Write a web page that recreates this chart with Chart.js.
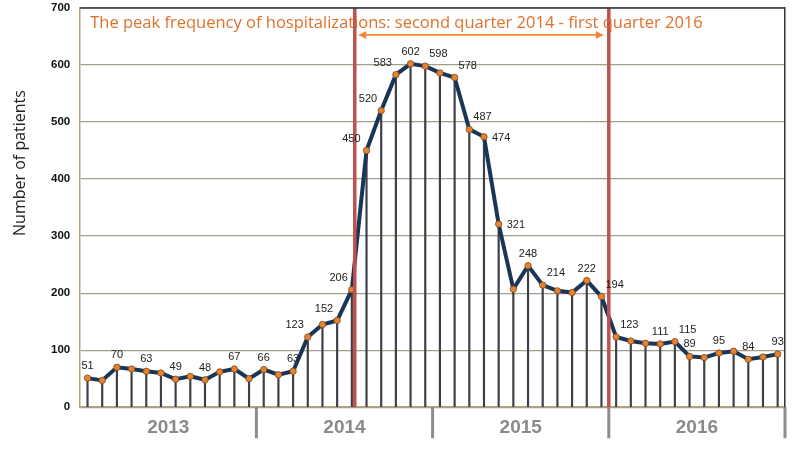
<!DOCTYPE html>
<html>
<head>
<meta charset="utf-8">
<script src="https://cdn.jsdelivr.net/npm/chart.js@4"></script>
<style>
html,body{margin:0;padding:0;background:#fff;}
#wrap{width:797px;height:465px;}
</style>
</head>
<body>
<div id="wrap"><canvas id="c" width="797" height="465"></canvas></div>
<script>
// ---- data ----
const years = ['2013', '2014', '2015', '2016'];
const months = ['Jan','Feb','Mar','Apr','May','Jun','Jul','Aug','Sep','Oct','Nov','Dec'];
const patients = [
  51, 47, 70, 67, 63, 60, 49, 54, 48, 62, 67, 50,
  66, 57, 63, 123, 145, 152, 206, 450, 520, 583, 602, 598,
  586, 578, 487, 474, 321, 207, 248, 214, 204, 201, 222, 194,
  123, 116, 112, 111, 115, 89, 87, 95, 98, 84, 88, 93
];
const labelledPoints = [0,2,4,6,8,10,12,14,15,17,18,19,20,21,22,23,25,26,27,28,30,31,34,35,36,39,40,41,43,45,47];
const yTicks = [0, 100, 200, 300, 400, 500, 600, 700];
const peakStart = 18.2;   // category position of peak period start
const peakEnd = 35.5;     // category position of peak period end
const titleText = 'The peak frequency of hospitalizations: second quarter 2014 - first quarter 2016';
const yTitle = 'Number of patients';

const categories = [];
years.forEach(y => months.forEach(m => categories.push(m + ' ' + y)));

// label placement style (not data)
const labelPlacement = {
  15:'la',17:'la',18:'la',19:'l',20:'la',21:'la',
  23:'ra',25:'ra',26:'ra',27:'r',28:'r',31:'ra',35:'ra',36:'ra',40:'ra'
};

const overlay = {
  id: 'overlay',
  afterDatasetsDraw(chart) {
    const ctx = chart.ctx;
    const xs = chart.scales.x, ys = chart.scales.y;
    const a = chart.chartArea;
    ctx.save();
    // red lines
    ctx.strokeStyle = '#c0504d';
    ctx.lineWidth = 3.5;
    [peakStart, peakEnd].forEach(v => {
      const px = xs.getPixelForValue(v);
      ctx.beginPath(); ctx.moveTo(px, a.top); ctx.lineTo(px, a.bottom); ctx.stroke();
    });
    // arrow
    const ax1 = xs.getPixelForValue(peakStart) + 3.5;
    const ax2 = xs.getPixelForValue(peakEnd) - 5;
    const ay = a.top + 27;
    ctx.strokeStyle = '#f0883a'; ctx.fillStyle = '#f0883a'; ctx.lineWidth = 1.6;
    ctx.beginPath(); ctx.moveTo(ax1 + 4, ay); ctx.lineTo(ax2 - 4, ay); ctx.stroke();
    ctx.beginPath(); ctx.moveTo(ax1, ay); ctx.lineTo(ax1 + 8, ay - 4); ctx.lineTo(ax1 + 8, ay + 4); ctx.closePath(); ctx.fill();
    ctx.beginPath(); ctx.moveTo(ax2, ay); ctx.lineTo(ax2 - 8, ay - 4); ctx.lineTo(ax2 - 8, ay + 4); ctx.closePath(); ctx.fill();
    // title text
    ctx.fillStyle = '#e0702a';
    ctx.font = '16.5px "Open Sans"';
    ctx.textAlign = 'left'; ctx.textBaseline = 'alphabetic';
    ctx.fillText(titleText, a.left + 10, a.top + 20);
    // data labels
    ctx.fillStyle = '#222';
    ctx.font = '11px "Liberation Sans", Arial';
    labelledPoints.forEach(i => {
      const px = xs.getPixelForValue(i), py = ys.getPixelForValue(patients[i]);
      const p = labelPlacement[i] || 'a';
      let tx = px, ty = py - 12, al = 'center';
      if (p === 'la') { tx = px - 4; ty = py - 12; al = 'right'; }
      if (p === 'l') { tx = px - 6; ty = py - 12; al = 'right'; }
      if (p === 'ra') { tx = px + 4; ty = py - 12; al = 'left'; }
      if (p === 'r') { tx = px + 8; ty = py + 1; al = 'left'; }
      ctx.textAlign = al; ctx.textBaseline = 'middle';
      ctx.fillText(String(patients[i]), tx, ty);
    });
    ctx.restore();
  },
  afterDraw(chart) {
    const a = chart.chartArea, ctx = chart.ctx, xs = chart.scales.x;
    ctx.save();
    // top border
    ctx.strokeStyle = '#2e3440'; ctx.lineWidth = 1.5;
    ctx.beginPath(); ctx.moveTo(a.left, a.top); ctx.lineTo(a.right, a.top); ctx.stroke();
    // year separators
    ctx.strokeStyle = '#8c8c8c'; ctx.lineWidth = 3;
    [11.5, 23.5, 35.5, 47.5].forEach(v => {
      const px = xs.getPixelForValue(v);
      ctx.beginPath(); ctx.moveTo(px, a.bottom); ctx.lineTo(px, a.bottom + 31); ctx.stroke();
    });
    // y axis title
    ctx.fillStyle = '#222';
    ctx.font = '16px "Open Sans"';
    ctx.translate(20, 163);
    ctx.rotate(-Math.PI / 2);
    ctx.textAlign = 'center'; ctx.textBaseline = 'middle';
    ctx.fillText(yTitle, 0, 0);
    ctx.restore();
  }
};

new Chart(document.getElementById('c'), {
  data: {
    labels: categories,
    datasets: [
      {
        type: 'line',
        data: patients,
        borderColor: '#1b3557',
        borderWidth: 4,
        pointRadius: 3.2,
        pointBackgroundColor: '#e8822e',
        pointBorderColor: '#7a4a20',
        pointBorderWidth: 0.8,
        tension: 0,
        order: 0
      },
      {
        type: 'bar',
        data: patients,
        backgroundColor: '#3a3f48',
        barThickness: 1.5,
        order: 1
      }
    ]
  },
  options: {
    responsive: false,
    animation: false,
    layout: { padding: { top: 0, right: 12, bottom: 17, left: 50 } },
    plugins: { legend: { display: false }, tooltip: { enabled: false } },
    scales: {
      x: {
        type: 'category',
        display: false,
        offset: true
      },
      x2: {
        type: 'category',
        position: 'bottom',
        labels: years,
        offset: true,
        border: { display: true, color: '#b5a27a', width: 1.5 },
        grid: { drawOnChartArea: false, drawTicks: false },
        ticks: {
          color: '#8a8a8a',
          font: { family: '"Liberation Sans", Arial', size: 19, weight: 'bold' },
          padding: 9
        }
      },
      y: {
        min: 0, max: 700,
        afterBuildTicks: (s) => { s.ticks = yTicks.map(v => ({ value: v })); },
        border: { display: true, color: '#b5a27a', width: 1.5 },
        grid: { color: '#a59d8c', lineWidth: 1.2, drawTicks: true, tickLength: 9, tickColor: 'rgba(0,0,0,0)' },
        ticks: {
          color: '#111',
          padding: 1,
          font: { family: '"Liberation Sans", Arial', size: 11.5, weight: 'bold' }
        }
      },
      yr: {
        position: 'right', min: 0, max: 700, display: true,
        border: { display: true, color: '#333', width: 1.5 },
        grid: { drawOnChartArea: false, drawTicks: false },
        ticks: { display: false }
      }
    }
  },
  plugins: [overlay]
});
</script>
</body>
</html>
